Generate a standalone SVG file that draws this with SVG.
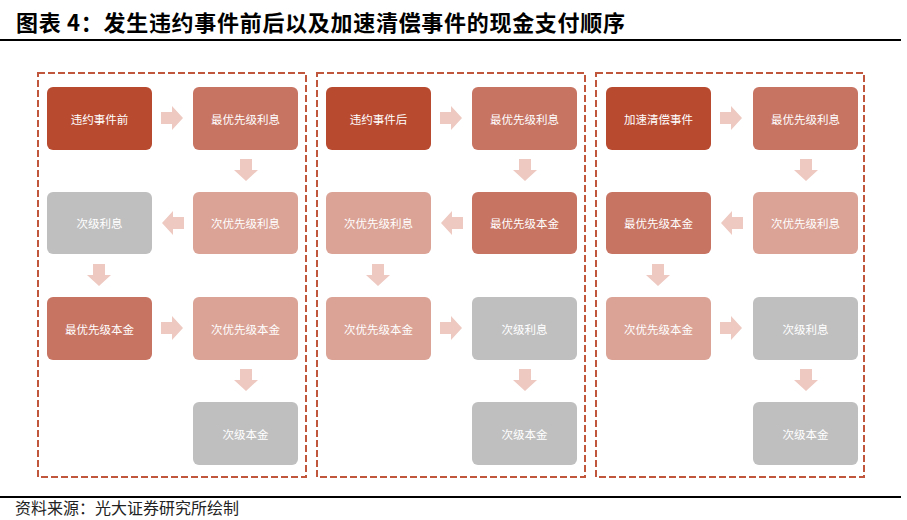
<svg xmlns="http://www.w3.org/2000/svg" width="907" height="520" viewBox="0 0 907 520">
<style>
.t{font-family:"Noto Sans CJK SC","Liberation Sans",sans-serif}
.title{font-size:22px;font-weight:bold;fill:#000}
.foot{font-size:16px;fill:#222}
.lbl{font-size:11.5px;fill:#fff;text-anchor:middle;dominant-baseline:central}
.frame{fill:none;stroke:#C0573D;stroke-width:2;stroke-dasharray:7 3}
.dark{fill:#B84A30}
.mid{fill:#C87463}
.light{fill:#DBA396}
.grey{fill:#BFBFBF}
.arr{fill:#EDC9C1}
</style>
<defs>
<path id="ar" d="M-11,-6 H0 V-12 L11,0 L0,12 V6 H-11 Z"/>
<path id="ad" d="M-6,-11 V0 H-12 L0,11 L12,0 H6 V-11 Z"/>
<path id="al" d="M11,-6 H0 V-12 L-11,0 L0,12 V6 H11 Z"/>
</defs>
<text class="t title" x="16" y="31" textLength="609" lengthAdjust="spacing">图表 4：发生违约事件前后以及加速清偿事件的现金支付顺序</text>
<rect x="0" y="39" width="901" height="2" fill="#000"/>
<g id="frames">
<rect class="frame" x="38" y="73" width="268" height="404"/>
<rect class="frame" x="317" y="73" width="268" height="404"/>
<rect class="frame" x="596" y="73" width="268" height="404"/>
</g>
<g id="n1a"><rect class="dark" x="47" y="87" width="105" height="63" rx="6"/><text class="t lbl" x="99.5" y="118.5">违约事件前</text></g>
<g id="n1b"><rect class="mid" x="193" y="87" width="105" height="63" rx="6"/><text class="t lbl" x="245.5" y="118.5">最优先级利息</text></g>
<g id="n1c"><rect class="light" x="193" y="192" width="105" height="62" rx="6"/><text class="t lbl" x="245.5" y="223">次优先级利息</text></g>
<g id="n1d"><rect class="grey" x="47" y="192" width="105" height="62" rx="6"/><text class="t lbl" x="99.5" y="223">次级利息</text></g>
<g id="n1e"><rect class="mid" x="47" y="297" width="105" height="63" rx="6"/><text class="t lbl" x="99.5" y="328.5">最优先级本金</text></g>
<g id="n1f"><rect class="light" x="193" y="297" width="105" height="63" rx="6"/><text class="t lbl" x="245.5" y="328.5">次优先级本金</text></g>
<g id="n1g"><rect class="grey" x="193" y="402" width="105" height="63" rx="6"/><text class="t lbl" x="245.5" y="433.5">次级本金</text></g>

<g id="n2a"><rect class="dark" x="326" y="87" width="105" height="63" rx="6"/><text class="t lbl" x="378.5" y="118.5">违约事件后</text></g>
<g id="n2b"><rect class="mid" x="472" y="87" width="105" height="63" rx="6"/><text class="t lbl" x="524.5" y="118.5">最优先级利息</text></g>
<g id="n2c"><rect class="mid" x="472" y="192" width="105" height="62" rx="6"/><text class="t lbl" x="524.5" y="223">最优先级本金</text></g>
<g id="n2d"><rect class="light" x="326" y="192" width="105" height="62" rx="6"/><text class="t lbl" x="378.5" y="223">次优先级利息</text></g>
<g id="n2e"><rect class="light" x="326" y="297" width="105" height="63" rx="6"/><text class="t lbl" x="378.5" y="328.5">次优先级本金</text></g>
<g id="n2f"><rect class="grey" x="472" y="297" width="105" height="63" rx="6"/><text class="t lbl" x="524.5" y="328.5">次级利息</text></g>
<g id="n2g"><rect class="grey" x="472" y="402" width="105" height="63" rx="6"/><text class="t lbl" x="524.5" y="433.5">次级本金</text></g>

<g id="n3a"><rect class="dark" x="606" y="87" width="105" height="63" rx="6"/><text class="t lbl" x="658.5" y="118.5">加速清偿事件</text></g>
<g id="n3b"><rect class="mid" x="753" y="87" width="105" height="63" rx="6"/><text class="t lbl" x="805.5" y="118.5">最优先级利息</text></g>
<g id="n3c"><rect class="light" x="753" y="192" width="105" height="62" rx="6"/><text class="t lbl" x="805.5" y="223">次优先级利息</text></g>
<g id="n3d"><rect class="mid" x="606" y="192" width="105" height="62" rx="6"/><text class="t lbl" x="658.5" y="223">最优先级本金</text></g>
<g id="n3e"><rect class="light" x="606" y="297" width="105" height="63" rx="6"/><text class="t lbl" x="658.5" y="328.5">次优先级本金</text></g>
<g id="n3f"><rect class="grey" x="753" y="297" width="105" height="63" rx="6"/><text class="t lbl" x="805.5" y="328.5">次级利息</text></g>
<g id="n3g"><rect class="grey" x="753" y="402" width="105" height="63" rx="6"/><text class="t lbl" x="805.5" y="433.5">次级本金</text></g>

<g id="connectors" class="arr">
<use href="#ar" x="172" y="118"/>
<use href="#ad" x="246" y="170"/>
<use href="#al" x="173" y="223"/>
<use href="#ad" x="99" y="275"/>
<use href="#ar" x="172" y="328"/>
<use href="#ad" x="246" y="380"/>

<use href="#ar" x="451" y="118"/>
<use href="#ad" x="525" y="170"/>
<use href="#al" x="452" y="223"/>
<use href="#ad" x="378" y="275"/>
<use href="#ar" x="451" y="328"/>
<use href="#ad" x="525" y="380"/>

<use href="#ar" x="731" y="118"/>
<use href="#ad" x="806" y="170"/>
<use href="#al" x="732" y="223"/>
<use href="#ad" x="658" y="275"/>
<use href="#ar" x="731" y="328"/>
<use href="#ad" x="806" y="380"/>
</g>
<rect x="0" y="496" width="901" height="2" fill="#000"/>
<text class="t foot" x="15" y="514">资料来源：光大证券研究所绘制</text>
</svg>
